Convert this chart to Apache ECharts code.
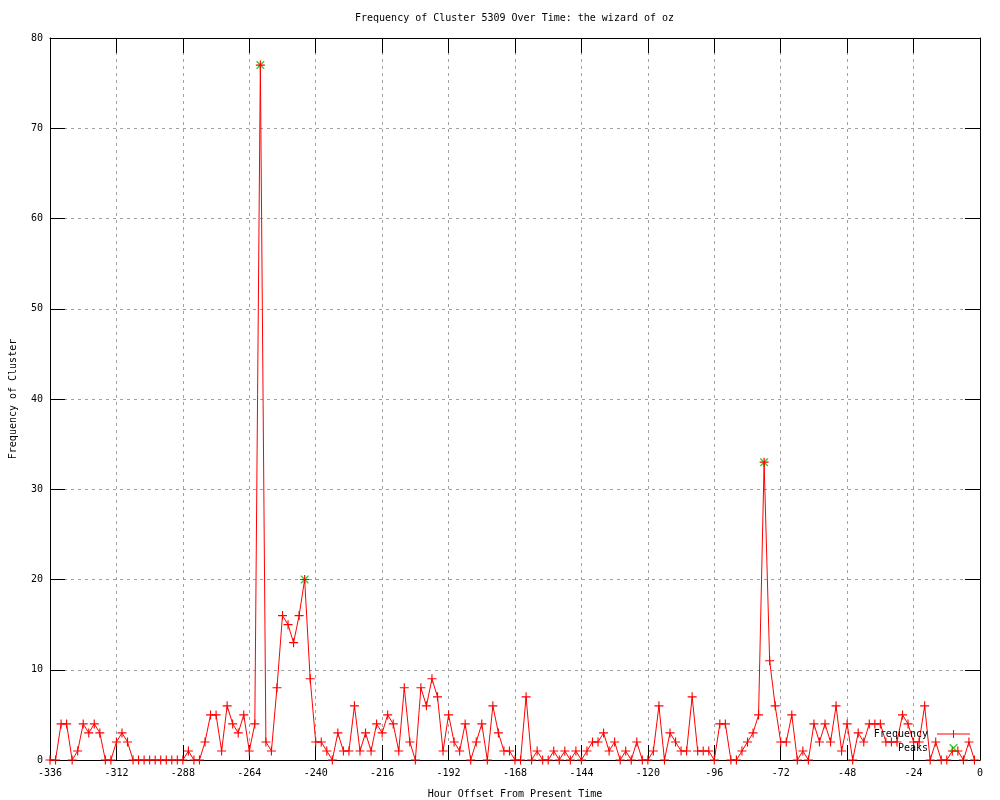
<!DOCTYPE html>
<html>
<head>
<meta charset="utf-8">
<script src="https://cdn.jsdelivr.net/npm/echarts@6/dist/echarts.min.js"></script>
<style>html,body{margin:0;padding:0;background:#fff;}#chart{width:1000px;height:800px;}</style>
</head>
<body>
<div id="chart"></div>
<script>
const titleText = 'Frequency of Cluster 5309 Over Time: the wizard of oz';
const xLabel = 'Hour Offset From Present Time';
const yLabel = 'Frequency of Cluster';

const hours = [
  -336,-334,-332,-330,-328,-326,-324,-322,-320,-318,-316,-314,
  -312,-310,-308,-306,-304,-302,-300,-298,-296,-294,-292,-290,
  -288,-286,-284,-282,-280,-278,-276,-274,-272,-270,-268,-266,
  -264,-262,-260,-258,-256,-254,-252,-250,-248,-246,-244,-242,
  -240,-238,-236,-234,-232,-230,-228,-226,-224,-222,-220,-218,
  -216,-214,-212,-210,-208,-206,-204,-202,-200,-198,-196,-194,
  -192,-190,-188,-186,-184,-182,-180,-178,-176,-174,-172,-170,
  -168,-166,-164,-162,-160,-158,-156,-154,-152,-150,-148,-146,
  -144,-142,-140,-138,-136,-134,-132,-130,-128,-126,-124,-122,
  -120,-118,-116,-114,-112,-110,-108,-106,-104,-102,-100,-98,
  -96,-94,-92,-90,-88,-86,-84,-82,-80,-78,-76,-74,
  -72,-70,-68,-66,-64,-62,-60,-58,-56,-54,-52,-50,
  -48,-46,-44,-42,-40,-38,-36,-34,-32,-30,-28,-26,
  -24,-22,-20,-18,-16,-14,-12,-10,-8,-6,-4,-2
];
const frequency = [
  0,0,4,4,0,1,4,3,4,3,0,0,
  2,3,2,0,0,0,0,0,0,0,0,0,
  0,1,0,0,2,5,5,1,6,4,3,5,
  1,4,77,2,1,8,16,15,13,16,20,9,
  2,2,1,0,3,1,1,6,1,3,1,4,
  3,5,4,1,8,2,0,8,6,9,7,1,
  5,2,1,4,0,2,4,0,6,3,1,1,
  0,0,7,0,1,0,0,1,0,1,0,1,
  0,1,2,2,3,1,2,0,1,0,2,0,
  0,1,6,0,3,2,1,1,7,1,1,1,
  0,4,4,0,0,1,2,3,5,33,11,6,
  2,2,5,0,1,0,4,2,4,2,6,1,
  4,0,3,2,4,4,4,2,2,2,5,4,
  2,2,6,0,2,0,0,1,1,0,2,0
];
const peakHours = [-260, -244, -78];
const peakValues = [77, 20, 33];

const xMin = -336, xMax = 0, xStep = 24;
const yMin = 0, yMax = 80, yStep = 10;

const FONT = 'DejaVu Sans Mono';
const plusSym = 'path://M0,3.5H8V4.5H0Z M3.5,0H4.5V8H3.5Z';
const crossSym = 'path://M0,0L1,0L8,7L8,8L7,8L0,1Z M7,0L8,0L8,1L1,8L0,8L0,7Z';
const lineLegendIcon = 'path://M0,3.5H33V4.5H0Z M16,0H17V8H16Z';

const chart = echarts.init(document.getElementById('chart'), null, {renderer: 'canvas'});

const gridLine = {show: true, lineStyle: {color: '#a0a0a0', width: 1, type: [3, 4]}};
const axisLineBlack = {show: true, onZero: false, lineStyle: {color: '#000', width: 1}};
const tickIn = {show: true, inside: true, length: 15, lineStyle: {color: '#000', width: 1}};

chart.setOption({
  animation: false,
  backgroundColor: '#fff',
  title: {
    text: titleText, left: 355, top: 13, padding: 0,
    textStyle: {fontFamily: FONT, fontSize: 10, fontWeight: 'normal', color: '#000'}
  },
  grid: {left: 50, right: 20, top: 38, bottom: 40, containLabel: false, outerBoundsMode: 'none'},
  legend: {
    orient: 'vertical', right: 30, top: 729, align: 'right', padding: 0,
    itemWidth: 33, itemHeight: 8, itemGap: 4,
    textStyle: {fontFamily: FONT, fontSize: 10, color: '#000', padding: [0, 4, 0, 0]},
    data: [
      {name: 'Frequency', icon: lineLegendIcon, itemStyle: {color: '#ff0000'}},
      {name: 'Peaks', icon: crossSym, itemStyle: {color: '#00c000'}}
    ]
  },
  xAxis: [{
    type: 'value', min: xMin, max: xMax, interval: xStep, position: 'bottom',
    name: xLabel, nameLocation: 'middle', nameGap: 29,
    nameTextStyle: {fontFamily: FONT, fontSize: 10, color: '#000'},
    axisLine: axisLineBlack, axisTick: tickIn, splitLine: gridLine,
    axisLabel: {fontFamily: FONT, fontSize: 10, color: '#000', margin: 8}
  }, {
    type: 'value', min: xMin, max: xMax, interval: xStep, position: 'top',
    axisLine: axisLineBlack, axisTick: tickIn, splitLine: {show: false},
    axisLabel: {show: false}
  }],
  yAxis: [{
    type: 'value', min: yMin, max: yMax, interval: yStep, position: 'left',
    name: yLabel, nameLocation: 'middle', nameGap: 32, nameRotate: 90,
    nameTextStyle: {fontFamily: FONT, fontSize: 10, color: '#000'},
    axisLine: axisLineBlack, axisTick: tickIn, splitLine: gridLine,
    axisLabel: {fontFamily: FONT, fontSize: 10, color: '#000', margin: 7}
  }, {
    type: 'value', min: yMin, max: yMax, interval: yStep, position: 'right',
    axisLine: axisLineBlack, axisTick: tickIn, splitLine: {show: false},
    axisLabel: {show: false}
  }],
  series: [{
    name: 'Frequency', type: 'line', xAxisIndex: 0, yAxisIndex: 0,
    data: hours.map((h, i) => [h, frequency[i]]),
    symbol: plusSym, symbolSize: 9, showAllSymbol: true,
    lineStyle: {color: '#ff0000', width: 1},
    itemStyle: {color: '#ff0000', borderWidth: 0},
    emphasis: {disabled: true}
  }, {
    name: 'Peaks', type: 'scatter', xAxisIndex: 0, yAxisIndex: 0,
    data: peakHours.map((h, i) => [h, peakValues[i]]),
    symbol: crossSym, symbolSize: 8,
    itemStyle: {color: '#00c000', borderWidth: 0},
    emphasis: {disabled: true}
  }]
});
</script>
</body>
</html>
